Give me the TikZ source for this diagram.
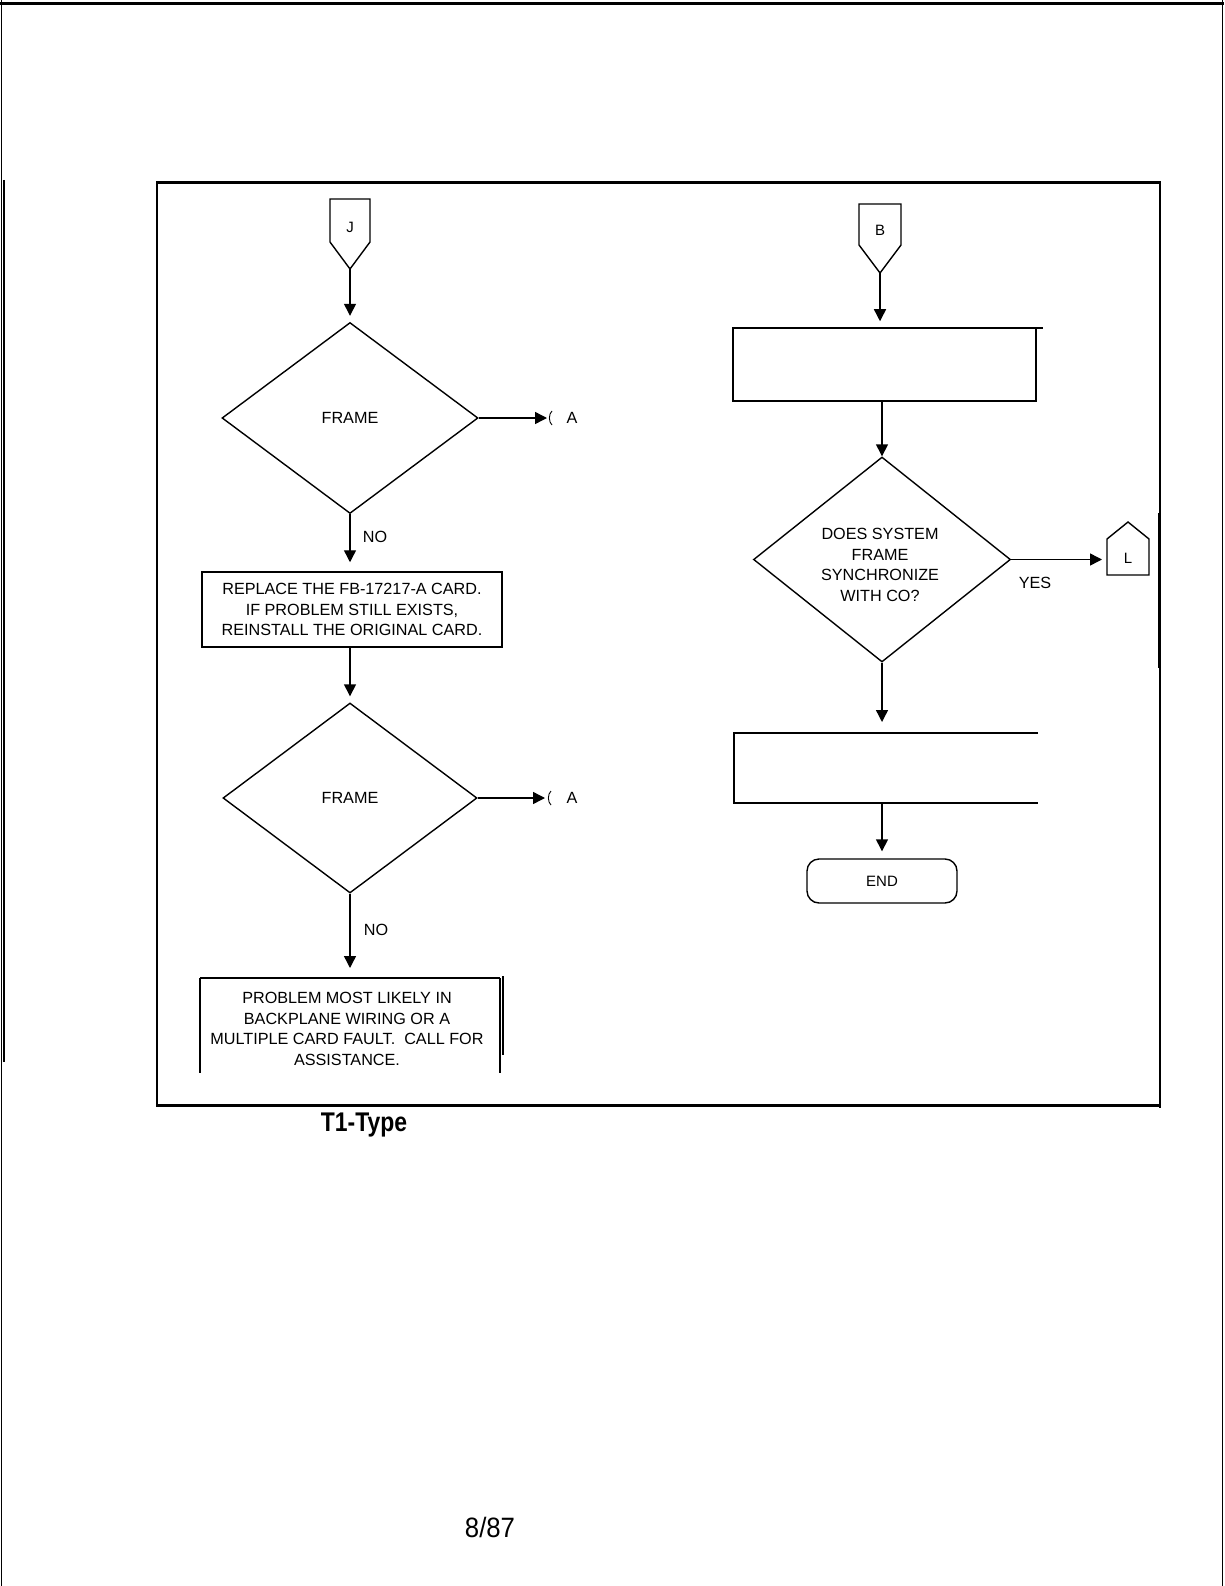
\documentclass[tikz,border=0pt]{standalone}
\usepackage{graphicx}
\usepackage{fontspec}
\setmainfont{Liberation Sans}
\usetikzlibrary{shapes.geometric,arrows.meta}
\begin{document}
\begin{tikzpicture}[x=1pt,y=-1pt,line width=1.4pt,
  lbl/.style={inner sep=0pt,font=\fontsize{16.2}{20.5}\selectfont,align=center},
  smalllbl/.style={inner sep=0pt,font=\fontsize{15}{18}\selectfont},
  flow/.style={-{Triangle[length=12pt,width=12pt]}},
  decision/.style={draw,diamond,inner sep=0pt,font=\fontsize{16.2}{20.5}\selectfont},
  procbox/.style={draw,rectangle,inner sep=0pt,line width=1.5pt},
  framethick/.style={line width=3pt},
  framethin/.style={line width=1.8pt}]
\useasboundingbox (0,0) rectangle (1224,1586);
% page frame
\draw[framethick] (0,4) -- (1224,4);
\draw[framethin] (1.5,0) -- (1.5,1586);
\draw[line width=2pt] (3.5,180) -- (3.5,1062);
\draw[framethin] (1222.5,0) -- (1222.5,1586);
% inner frame
\draw[framethick] (156,183) -- (1161,183);
\draw[line width=2.2pt] (157,183) -- (157,1105);
\draw[framethick] (156,1105) -- (1161,1105);
\draw[line width=1.5pt] (1160,183) -- (1160,1108);
\draw[framethick] (1159.5,513) -- (1159.5,668);
% ---------------- left column ----------------
\draw (330,199) -- (370,199) -- (370,242) -- (350,269) -- (330,242) -- cycle;
\node[smalllbl] (J) at (350,227) {J};
\coordinate (Jtip) at (350,269);
\node[decision,minimum width=256pt,minimum height=191pt] (d1) at (350,418) {FRAME};
\draw[flow,shorten >=6pt] (Jtip) -- (d1.north);
\coordinate (A1) at (547,418);
\draw[flow] (d1.east) -- (A1);
\draw[line width=0.9pt] (552,411) .. controls (548.5,414) and (548.5,422) .. (552,425);
\node[lbl] (A1l) at (572,418) {A};
\node[procbox,lbl,minimum width=300pt,minimum height=75pt] (b1) at (352,609.5)
  {REPLACE THE FB-17217-A CARD.\\IF PROBLEM STILL EXISTS,\\REINSTALL THE ORIGINAL CARD.};
\draw[flow,shorten >=9pt] (d1.south) -- (d1.south |- b1.north);
\node[lbl] (no1) at (375,537) {NO};
\node[decision,minimum width=254pt,minimum height=190pt] (d2) at (350,798) {FRAME};
\draw[flow,shorten >=6pt] (d2.north |- b1.south) -- (d2.north);
\coordinate (A2) at (545,798);
\draw[flow] (d2.east) -- (A2);
\draw[line width=0.9pt] (551,791) .. controls (547.5,794) and (547.5,802) .. (551,805);
\node[lbl] (A2l) at (572,798) {A};
% box 2 (cut off)
\draw[line width=1.5pt] (200,978) -- (500,978);
\draw[line width=1.5pt] (200,978) -- (200,1073);
\draw[line width=1.5pt] (500,978) -- (500,1073);
\draw[line width=1.1pt] (503,976) -- (503,1055);
\node[lbl] (b2) at (347,1029)
  {PROBLEM MOST LIKELY IN\\BACKPLANE WIRING OR A\\MULTIPLE CARD FAULT.\ \ CALL FOR\\ASSISTANCE.};
\coordinate (b2top) at (350,978);
\draw[flow,shorten >=10pt] (d2.south) -- (d2.south |- b2top);
\node[lbl] (no2) at (376,930) {NO};
% ---------------- right column ----------------
\draw (859,204) -- (901,204) -- (901,245) -- (880,273) -- (859,245) -- cycle;
\node[smalllbl] (B) at (880,230) {B};
\coordinate (Btip) at (880,273);
\node[procbox,minimum width=303pt,minimum height=73pt] (b3) at (884.5,364.5) {};
\draw[line width=1.5pt] (1036,328) -- (1043,328);
\draw[flow,shorten >=6pt] (Btip) -- (Btip |- b3.north);
\node[decision,minimum width=257pt,minimum height=205pt] (d3) at (882,559.5) {};
\node[lbl] (d3t) at (880,565) {DOES SYSTEM\\FRAME\\SYNCHRONIZE\\WITH CO?};
\draw[flow] (d3.north |- b3.south) -- (d3.north);
% L connector
\draw (1107,575) -- (1107,539) -- (1128,522) -- (1149,539) -- (1149,575) -- cycle;
\node[smalllbl] (L) at (1128,558) {L};
\coordinate (Lw) at (1107,559.5);
\draw[flow,shorten >=5pt] (d3.east) -- (d3.east -| Lw);
\node[lbl] (yes) at (1035,583) {YES};
% box 4 (open at right)
\draw[line width=1.5pt] (1038,733) -- (734,733) -- (734,803) -- (1038,803);
\coordinate (b4top) at (882,733);
\coordinate (b4bot) at (882,803);
\draw[flow,shorten >=11pt] (d3.south) -- (b4top);
\node[draw,rounded corners=12pt,minimum width=150pt,minimum height=44pt,inner sep=0pt,
  font=\fontsize{15}{18}\selectfont] (end) at (882,881) {END};
\draw[flow,shorten >=7pt] (b4bot) -- (end.north);
% captions
\node[inner sep=0pt,anchor=base,font=\fontsize{27}{30}\selectfont\bfseries] (cap) at (364,1131)
  {\scalebox{0.85}[1]{T1-Type}};
\node[inner sep=0pt,anchor=base,font=\fontsize{28}{32}\selectfont] (date) at (490,1537)
  {\scalebox{0.92}[1]{8/87}};
\end{tikzpicture}
\end{document}
